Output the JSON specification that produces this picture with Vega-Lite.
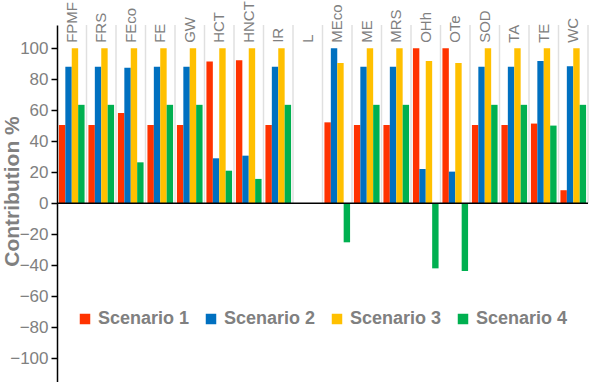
{
  "$schema": "https://vega.github.io/schema/vega-lite/v6.json",
  "width": 531,
  "height": 356.5,
  "autosize": {"type": "none"},
  "padding": {"left": 57, "top": 25, "right": 3, "bottom": 3},
  "background": "white",
  "config": {"view": {"stroke": null}, "font": "Liberation Sans"},
  "data": {"values": [
    {"cat": "FPMF", "scenario": "Scenario 1", "value": 50.5},
    {"cat": "FPMF", "scenario": "Scenario 2", "value": 88},
    {"cat": "FPMF", "scenario": "Scenario 3", "value": 100},
    {"cat": "FPMF", "scenario": "Scenario 4", "value": 63.5},
    {"cat": "FRS", "scenario": "Scenario 1", "value": 50.5},
    {"cat": "FRS", "scenario": "Scenario 2", "value": 88},
    {"cat": "FRS", "scenario": "Scenario 3", "value": 100},
    {"cat": "FRS", "scenario": "Scenario 4", "value": 63.5},
    {"cat": "FEco", "scenario": "Scenario 1", "value": 58.2},
    {"cat": "FEco", "scenario": "Scenario 2", "value": 87.5},
    {"cat": "FEco", "scenario": "Scenario 3", "value": 100},
    {"cat": "FEco", "scenario": "Scenario 4", "value": 26.4},
    {"cat": "FE", "scenario": "Scenario 1", "value": 50.5},
    {"cat": "FE", "scenario": "Scenario 2", "value": 88},
    {"cat": "FE", "scenario": "Scenario 3", "value": 100},
    {"cat": "FE", "scenario": "Scenario 4", "value": 63.5},
    {"cat": "GW", "scenario": "Scenario 1", "value": 50.5},
    {"cat": "GW", "scenario": "Scenario 2", "value": 88},
    {"cat": "GW", "scenario": "Scenario 3", "value": 100},
    {"cat": "GW", "scenario": "Scenario 4", "value": 63.5},
    {"cat": "HCT", "scenario": "Scenario 1", "value": 91.4},
    {"cat": "HCT", "scenario": "Scenario 2", "value": 29},
    {"cat": "HCT", "scenario": "Scenario 3", "value": 100},
    {"cat": "HCT", "scenario": "Scenario 4", "value": 21},
    {"cat": "HNCT", "scenario": "Scenario 1", "value": 92.2},
    {"cat": "HNCT", "scenario": "Scenario 2", "value": 30.7},
    {"cat": "HNCT", "scenario": "Scenario 3", "value": 100},
    {"cat": "HNCT", "scenario": "Scenario 4", "value": 15.7},
    {"cat": "IR", "scenario": "Scenario 1", "value": 50.5},
    {"cat": "IR", "scenario": "Scenario 2", "value": 88},
    {"cat": "IR", "scenario": "Scenario 3", "value": 100},
    {"cat": "IR", "scenario": "Scenario 4", "value": 63.5},
    {"cat": "L", "scenario": "Scenario 1", "value": 0},
    {"cat": "L", "scenario": "Scenario 2", "value": 0},
    {"cat": "L", "scenario": "Scenario 3", "value": 0},
    {"cat": "L", "scenario": "Scenario 4", "value": 0},
    {"cat": "MEco", "scenario": "Scenario 1", "value": 52.2},
    {"cat": "MEco", "scenario": "Scenario 2", "value": 100},
    {"cat": "MEco", "scenario": "Scenario 3", "value": 90.5},
    {"cat": "MEco", "scenario": "Scenario 4", "value": -25.2},
    {"cat": "ME", "scenario": "Scenario 1", "value": 50.5},
    {"cat": "ME", "scenario": "Scenario 2", "value": 88},
    {"cat": "ME", "scenario": "Scenario 3", "value": 100},
    {"cat": "ME", "scenario": "Scenario 4", "value": 63.5},
    {"cat": "MRS", "scenario": "Scenario 1", "value": 50.5},
    {"cat": "MRS", "scenario": "Scenario 2", "value": 88},
    {"cat": "MRS", "scenario": "Scenario 3", "value": 100},
    {"cat": "MRS", "scenario": "Scenario 4", "value": 63.5},
    {"cat": "OHh", "scenario": "Scenario 1", "value": 100},
    {"cat": "OHh", "scenario": "Scenario 2", "value": 22.1},
    {"cat": "OHh", "scenario": "Scenario 3", "value": 91.8},
    {"cat": "OHh", "scenario": "Scenario 4", "value": -42},
    {"cat": "OTe", "scenario": "Scenario 1", "value": 100},
    {"cat": "OTe", "scenario": "Scenario 2", "value": 20.4},
    {"cat": "OTe", "scenario": "Scenario 3", "value": 90.5},
    {"cat": "OTe", "scenario": "Scenario 4", "value": -43.7},
    {"cat": "SOD", "scenario": "Scenario 1", "value": 50.5},
    {"cat": "SOD", "scenario": "Scenario 2", "value": 88},
    {"cat": "SOD", "scenario": "Scenario 3", "value": 100},
    {"cat": "SOD", "scenario": "Scenario 4", "value": 63.5},
    {"cat": "TA", "scenario": "Scenario 1", "value": 50.5},
    {"cat": "TA", "scenario": "Scenario 2", "value": 88},
    {"cat": "TA", "scenario": "Scenario 3", "value": 100},
    {"cat": "TA", "scenario": "Scenario 4", "value": 63.5},
    {"cat": "TE", "scenario": "Scenario 1", "value": 51.4},
    {"cat": "TE", "scenario": "Scenario 2", "value": 91.8},
    {"cat": "TE", "scenario": "Scenario 3", "value": 100},
    {"cat": "TE", "scenario": "Scenario 4", "value": 50.1},
    {"cat": "WC", "scenario": "Scenario 1", "value": 8.4},
    {"cat": "WC", "scenario": "Scenario 2", "value": 88.4},
    {"cat": "WC", "scenario": "Scenario 3", "value": 100},
    {"cat": "WC", "scenario": "Scenario 4", "value": 63.5}
  ]},
  "layer": [
    {
      "mark": {"type": "bar"},
      "encoding": {
        "x": {"field": "cat", "type": "nominal", "sort": null, "scale": {"paddingInner": 0, "paddingOuter": 0}, "axis": null},
        "xOffset": {"field": "scenario", "type": "nominal", "scale": {"paddingInner": 0, "paddingOuter": 0.3}},
        "y": {
          "field": "value", "type": "quantitative",
          "scale": {"domain": [-115, 115], "nice": false, "zero": false},
          "axis": {
            "title": "Contribution %",
            "values": [-100, -80, -60, -40, -20, 0, 20, 40, 60, 80, 100],
            "tickCount": 20,
            "grid": false,
            "labelOverlap": false, "labelFlush": false,
            "domainColor": "black", "domainWidth": 1.5,
            "tickColor": "black", "tickSize": 6, "tickWidth": 1.5,
            "labelColor": "#808080", "labelFontSize": 17, "labelPadding": 3,
            "titleColor": "#808080", "titleFontSize": 21, "titleFontWeight": "bold",
            "titleX": -45, "titleY": 166, "titleAngle": 270, "titleBaseline": "middle", "titleAlign": "center"
          }
        },
        "color": {
          "field": "scenario", "type": "nominal",
          "scale": {"domain": ["Scenario 1", "Scenario 2", "Scenario 3", "Scenario 4"], "range": ["#FF3300", "#0070C0", "#FFC000", "#00B050"]},
          "legend": {
            "title": null, "orient": "none", "direction": "horizontal",
            "legendX": 19, "legendY": 285, "columns": 4,
            "symbolType": "square", "symbolSize": 110, "symbolStrokeWidth": 0, "symbolOpacity": 1,
            "labelFontSize": 18, "labelFontWeight": "bold", "labelColor": "#808080",
            "columnPadding": 12, "labelOffset": 4
          }
        }
      }
    },
    {
      "transform": [{"filter": "datum.scenario === 'Scenario 1'"}],
      "mark": {"type": "rule", "color": "#e0e0e0", "strokeWidth": 1.5},
      "encoding": {
        "x": {"field": "cat", "type": "nominal", "sort": null, "bandPosition": 1},
        "y": {"datum": 0},
        "y2": {"datum": 115}
      }
    },
    {
      "data": {"values": [{}]},
      "mark": {"type": "rule", "color": "black", "strokeWidth": 1.5},
      "encoding": {"y": {"datum": 0}}
    },
    {
      "transform": [{"filter": "datum.scenario === 'Scenario 1'"}],
      "mark": {"type": "text", "angle": 270, "align": "left", "baseline": "middle", "fontSize": 15, "color": "#808080"},
      "encoding": {
        "x": {"field": "cat", "type": "nominal", "sort": null},
        "y": {"datum": 103.5},
        "text": {"field": "cat"}
      }
    }
  ]
}
